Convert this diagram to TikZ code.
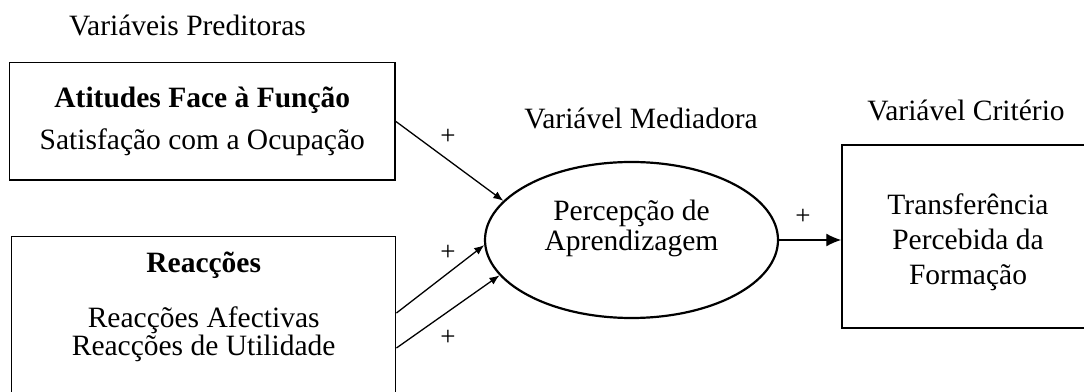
\documentclass[tikz,border=0pt]{standalone}
\usepackage{fontspec}
\setmainfont{Liberation Serif}
\usepackage{tikz}
\usetikzlibrary{shapes.geometric}
\usetikzlibrary{arrows.meta}

\begin{document}
\begin{tikzpicture}[x=1pt, y=1pt]
  \def \fs {\fontsize{29.5}{34}\selectfont}
  \def \fp {\fontsize{27}{30}\selectfont}
  \tikzset{
    varbox/.style={draw, line width=1.5pt, align=center, inner sep=0pt},
    link/.style={->, >={Latex[length=10pt, width=8pt]}, line width=1.3pt}
  }
  \useasboundingbox (0,0) rectangle (1084,391);

  % titles
  \node[font=\fs] (pred) at (187.5,366) {Variáveis Preditoras};
  \node[font=\fs] (med) at (641,273) {Variável Mediadora};
  \node[font=\fs] (crit) at (966,281) {Variável Critério};

  % predictors
  \node[varbox, font=\fs, minimum width=385.5pt, minimum height=117.3pt] (atit) at (202.3,269.6)
    {\textbf{Atitudes Face à Função}\\[8pt] Satisfação com a Ocupação};
  \node[varbox, minimum width=384pt, minimum height=160.6pt] (reac) at (203.7,74) {};
  \node[align=center, font=\fontsize{29.5}{28}\selectfont] (reactxt) at (203.7,84.5)
    {\textbf{Reacções}\\[27pt] Reacções Afectivas\\ Reacções de Utilidade};

  % mediator
  \node[draw, ellipse, line width=2.2pt, minimum width=293pt, minimum height=156pt, inner sep=0pt] (apr) at (631.5,151) {};
  \node[align=center, font=\fontsize{29.5}{30}\selectfont] (aprtxt) at (631.5,163) {Percepção de\\ Aprendizagem};

  % criterion
  \node[varbox, minimum width=252pt, minimum height=183pt] (transf) at (968,154.5) {};
  \node[align=center, font=\fontsize{29.5}{35}\selectfont] (transftxt) at (968,149) {Transferência\\ Percebida da\\ Formação};

  % links
  \draw[link] (atit.east) -- (apr.163);
  \draw[link] ([yshift=4pt]reac.east) -- (apr.182);
  \draw[link] ([yshift=-31pt]reac.east) -- (apr.195);
  \draw[link, >={Latex[length=15pt, width=13pt]}] (apr.east) -- (apr.east -| transf.west);

  \node[font=\fp] (p1) at (448,254) {+};
  \node[font=\fp] (p2) at (448,138) {+};
  \node[font=\fp] (p3) at (448,53) {+};
  \node[font=\fp] (p4) at (803,174) {+};
\end{tikzpicture}
\end{document}
